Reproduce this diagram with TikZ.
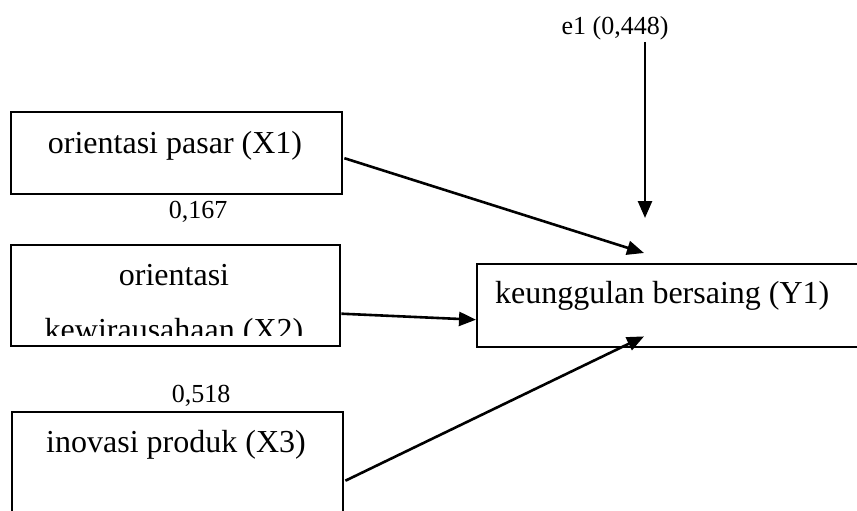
\documentclass[tikz,border=0pt]{standalone}
\usepackage{fontspec}
\setmainfont{Liberation Serif}
\usetikzlibrary{arrows.meta,calc}
\begin{document}
\begin{tikzpicture}[x=1pt,y=-1pt,
  box/.style={draw=black, line width=2.4pt, rectangle, inner sep=0pt, anchor=north west},
  big/.style={font=\fontsize{32}{38}\selectfont, inner sep=0pt, anchor=base},
  small/.style={font=\fontsize{26}{31}\selectfont, inner sep=0pt, anchor=base},
  arr/.style={line width=2.6pt, -{Triangle[length=17pt,width=14pt]}}]
\useasboundingbox (0,0) rectangle (857,511);
\clip (0,0) rectangle (857,511);
% boxes
\node[box, minimum width=331pt, minimum height=82pt] (x1) at (10,111) {};
\node[box, minimum width=329pt, minimum height=101pt] (x2) at (10,244) {};
\node[box, minimum width=331pt, minimum height=115pt] (x3) at (11,411) {};
\node[box, minimum width=400pt, minimum height=83pt] (y1) at (476,263) {};
% texts
\node[big] (t1) at (175,153) {orientasi pasar (X1)};
\node[small] (c1) at (198,218) {0,167};
\node[big] (t2a) at (174,285) {orientasi};
\begin{scope}
  \clip (12,246) rectangle (337,335);
  \node[big] (t2b) at (174,340) {kewirausahaan (X2)};
\end{scope}
\node[small] (c3) at (201,402) {0,518};
\node[big] (t3) at (176,452) {inovasi produk (X3)};
\node[big, anchor=base west] (ty) at (495,303) {keunggulan bersaing (Y1)};
\node[small] (e1) at (615,35) {e1 (0,448)};
% connectors
\coordinate (e1s) at (645,42);
\coordinate (e1t) at (645,218);
\draw[arr] (e1s) -- (e1t);
\draw[arr] ($(x1.east)+(1,5)$) -- ($(y1.north west)+(168,-10)$);
\draw[arr] ($(x2.east)+(0,18)$) -- ($(y1.west)+(0,14)$);
\draw[arr] ($(x3.east)+(1,11)$) -- ($(y1.south west)+(168,-12)$);
\end{tikzpicture}
\end{document}
